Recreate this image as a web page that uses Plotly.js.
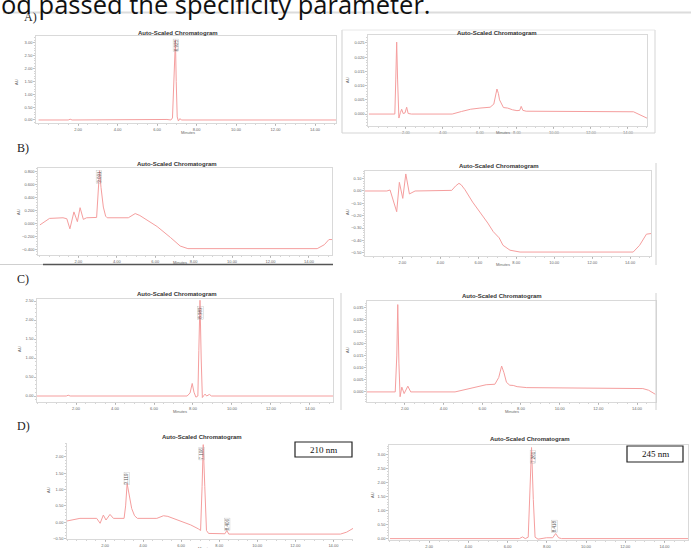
<!DOCTYPE html>
<html>
<head>
<meta charset="utf-8">
<script src="https://cdn.plot.ly/plotly-3.0.1.min.js"></script>
<style>
html,body{margin:0;padding:0;background:#fff;}
#chart{width:691px;height:548px;}
</style>
</head>
<body>
<div id="chart"></div>
<script>
// ---------------- DATA ----------------
const xTickVals = [2, 4, 6, 8, 10, 12, 14];

// A) left : standard
const aLeftT = [0, 1.5, 1.6, 1.7, 6.5, 6.7, 6.78, 6.84, 6.89, 6.93, 6.97, 7.02, 7.08, 7.15, 7.25, 15.1];
const aLeftV = [0, 0, 0.03, 0, 0.02, 0, 0.08, 1.4, 3.05, 3.12, 1.5, 0.12, -0.04, 0.05, 0, 0];
// A) right : blank
const aRightT = [0, 1.4, 1.45, 1.5, 1.55, 1.62, 1.7, 1.77, 1.85, 1.95, 2.04, 2.12, 2.3, 4.5, 5.0, 5.5, 6.0, 6.55, 6.75, 6.85, 6.92, 7.0, 7.06, 7.27, 7.5, 7.76, 8.0, 8.15, 8.23, 8.32, 8.5, 14.3, 14.6, 15.05];
const aRightV = [0, 0, 0.012, 0.0253, 0.012, -0.0014, 0.0005, 0.0017, 0.0002, 0.0004, 0.0024, 0.0002, 0, 0, 0.0009, 0.0017, 0.0021, 0.0024, 0.0035, 0.0075, 0.0088, 0.0072, 0.005, 0.0023, 0.0021, 0.0015, 0.0012, 0.0013, 0.0027, 0.0013, 0.001, 0.0008, -0.0002, -0.0015];
// B) left
const bLeftT = [0, 0.5, 1.2, 1.4, 1.56, 1.77, 1.95, 2.09, 2.26, 2.43, 2.95, 3.02, 3.1, 3.18, 3.3, 3.42, 3.5, 4.6, 4.96, 5.2, 5.6, 6.1, 6.8, 7.3, 7.7, 14.43, 14.8, 15.04, 15.2];
const bLeftV = [-0.025, 0.075, 0.085, 0.07, -0.085, 0.175, 0.025, 0.24, 0.06, 0.085, 0.09, 0.4, 0.81, 0.55, 0.25, 0.11, 0.085, 0.085, 0.15, 0.12, 0.05, -0.05, -0.22, -0.35, -0.39, -0.39, -0.33, -0.25, -0.25];
// B) right : blank
const bRightT = [0, 1.18, 1.35, 1.7, 1.84, 2.02, 2.18, 2.37, 2.67, 4.5, 4.6, 4.8, 4.98, 5.1, 5.3, 5.7, 6.09, 6.5, 6.79, 7.1, 7.3, 7.67, 8.2, 14.16, 14.5, 14.86, 15.1];
const bRightV = [0, 0, 0.008, -0.168, 0.07, -0.06, 0.138, -0.024, 0, 0, 0.005, 0.04, 0.062, 0.05, 0.01, -0.09, -0.17, -0.26, -0.33, -0.38, -0.44, -0.48, -0.495, -0.495, -0.44, -0.35, -0.345];
// C) left
const cLeftT = [0, 1.5, 1.6, 1.7, 7.7, 7.85, 7.96, 8.05, 8.15, 8.25, 8.3, 8.36, 8.42, 8.48, 8.55, 8.62, 8.7, 8.84, 8.95, 15.2];
const cLeftV = [0, 0, 0.02, 0, 0, 0.08, 0.33, 0.1, -0.03, 0, 1.2, 2.52, 1.0, -0.04, 0.01, 0.05, 0, 0.04, 0, 0];
// C) right : blank
const cRightT = [0, 1.5, 1.58, 1.63, 1.69, 1.75, 1.84, 1.96, 2.15, 2.3, 4.59, 5.2, 5.8, 6.2, 6.65, 6.85, 7.0, 7.12, 7.25, 7.42, 7.6, 7.8, 8.3, 10, 14.3, 14.6, 14.95];
const cRightV = [0, 0, 0.015, 0.0364, 0.012, -0.002, 0.002, -0.0007, 0.0024, 0, 0, 0.0012, 0.0024, 0.003, 0.0032, 0.006, 0.0108, 0.008, 0.004, 0.0028, 0.0027, 0.0022, 0.0018, 0.0016, 0.0014, 0.0007, -0.001];
// D) left : 210 nm
const dLeftT = [0, 0.68, 1.56, 1.74, 1.91, 2.05, 2.26, 2.44, 3.0, 3.08, 3.16, 3.25, 3.4, 3.55, 3.7, 4.72, 5.07, 5.3, 5.9, 6.5, 6.9, 7.02, 7.1, 7.16, 7.24, 7.33, 7.44, 8.3, 8.4, 8.5, 14.37, 14.7, 15.05];
const dLeftV = [0.04, 0.12, 0.12, -0.03, 0.22, 0.07, 0.24, 0.12, 0.12, 0.5, 1.18, 0.85, 0.42, 0.2, 0.12, 0.12, 0.2, 0.18, 0.05, -0.08, -0.2, -0.25, 1.1, 2.37, 1.1, -0.25, -0.34, -0.35, -0.25, -0.36, -0.36, -0.3, -0.18];
// D) right : 245 nm
const dRightT = [0, 6.6, 6.76, 6.9, 7.05, 7.13, 7.22, 7.31, 7.4, 7.55, 7.98, 8.3, 8.45, 8.6, 8.75, 15.2];
const dRightV = [0, 0, 0.06, 0, 0.05, 1.4, 3.25, 1.4, 0.05, -0.02, 0.03, 0.03, 0.18, 0.03, 0, 0];

const peakLabelText = ["6.925", "3.091", "8.383", "3.119", "7.106", "8.406", "7.261", "8.418"];
const peakLabelT = [6.93, 3.08, 8.41, 3.15, 7.09, 8.41, 7.28, 8.4];
const peakLabelV = [2.9, 0.71, 2.2, 1.35, 2.11, -0.08, 2.92, 0.44];
const peakLabelPanel = [0, 2, 4, 6, 6, 6, 7, 7];

// ---------------- LAYOUT HELPERS ----------------
const W = 691, H = 548;
const px = x => x / W;
const py = y => 1 - y / H;

const panels = [
  {box:[36,336,36,123],  xr:[-0.13,15.06], yr:[-0.117,3.27],   ydt:0.5,   yfmt:'.2f', t:aLeftT,  v:aLeftV,  mirror:true, title:[178,33],  au:[17,82],   min:[188,132]},
  {box:[368,647,35,126], xr:[-0.05,15.03], yr:[-0.0042,0.0278], ydt:0.005, yfmt:'.3f', t:aRightT, v:aRightV, mirror:true, title:[497,33],  au:[347,80],  min:[503,132]},
  {box:[38,332,168,255], xr:[-0.1,15.2],   yr:[-0.488,0.851],  ydt:0.2,   yfmt:'.3f', t:bLeftT,  v:bLeftV,  mirror:true, title:[177,164], au:[18,212],  min:[180,262]},
  {box:[365,651,171,256],xr:[0.03,15.1],   yr:[-0.527,0.162],  ydt:0.1,   yfmt:'.2f', t:bRightT, v:bRightV, mirror:true, title:[499,166], au:[347,212], min:[503,264]},
  {box:[37,333,299,402], xr:[0,15.18],     yr:[-0.158,2.553],  ydt:0.5,   yfmt:'.2f', t:cLeftT,  v:cLeftV,  mirror:true, title:[177,294], au:[19,349],  min:[180,411]},
  {box:[367,656,301,402],xr:[0.04,14.98],  yr:[-0.0042,0.0379], ydt:0.005, yfmt:'.3f', t:cRightT, v:cRightV, mirror:true, title:[502,296], au:[347,350], min:[512,411]},
  {box:[67,353,443,539], xr:[0,15.03],     yr:[-0.51,2.42],    ydt:0.5,   yfmt:'.2f', t:dLeftT,  v:dLeftV,  mirror:false,title:[202,437], au:[48,490],  min:[205,548]},
  {box:[389,688,445,540],xr:[-0.05,15.2],  yr:[-0.05,3.34],    ydt:0.5,   yfmt:'.2f', t:dRightT, v:dRightV, mirror:true, title:[530,439], au:[372,495], min:null}
];

const lineColor = 'rgb(245,158,158)';
const tickFont = {family:'Liberation Sans, Arial, sans-serif', size:4, color:'#666'};
const traces = [];
const layout = {
  width: W, height: H,
  margin: {l:0, r:0, t:0, b:0},
  paper_bgcolor: '#fff', plot_bgcolor: '#fff',
  showlegend: false,
  annotations: [], shapes: []
};

panels.forEach((p, i) => {
  const n = i === 0 ? '' : String(i + 1);
  traces.push({
    x: p.t, y: p.v, xaxis: 'x' + n, yaxis: 'y' + n,
    type: 'scatter', mode: 'lines',
    line: {color: lineColor, width: 1},
    hoverinfo: 'skip'
  });
  const common = {
    showline: true, linecolor: '#cfcfcf', linewidth: 0.8, mirror: p.mirror,
    ticks: 'outside', ticklen: 2, tickwidth: 0.6, tickcolor: '#999',
    tickfont: tickFont, showgrid: false, zeroline: false, fixedrange: true
  };
  layout['xaxis' + n] = Object.assign({}, common, {
    domain: [px(p.box[0]), px(p.box[1])], range: p.xr, anchor: 'y' + n,
    tickmode: 'array', tickvals: xTickVals, tickformat: '.2f',
    minor: {tickmode: 'linear', tick0: 0, dtick: 0.5, ticks: 'outside', ticklen: 1.2, tickwidth: 0.5, tickcolor: '#aaa'}
  });
  layout['yaxis' + n] = Object.assign({}, common, {
    domain: [py(p.box[3]), py(p.box[2])], range: p.yr, anchor: 'x' + n,
    tickmode: 'linear', tick0: 0, dtick: p.ydt, tickformat: p.yfmt,
    minor: {tickmode: 'linear', tick0: 0, dtick: p.ydt / 5, ticks: 'outside', ticklen: 1.2, tickwidth: 0.5, tickcolor: '#aaa'}
  });
  layout.annotations.push({
    xref:'paper', yref:'paper', x:px(p.title[0]), y:py(p.title[1]),
    text:'<b>Auto-Scaled Chromatogram</b>', showarrow:false,
    font:{family:'Liberation Sans, Arial, sans-serif', size:6, color:'#333'},
    xanchor:'center', yanchor:'middle'
  });
  layout.annotations.push({
    xref:'paper', yref:'paper', x:px(p.au[0]), y:py(p.au[1]),
    text:'AU', textangle:-90, showarrow:false, font:tickFont,
    xanchor:'center', yanchor:'middle'
  });
  if (p.min) layout.annotations.push({
    xref:'paper', yref:'paper', x:px(p.min[0]), y:py(p.min[1]),
    text:'Minutes', showarrow:false, font:tickFont,
    xanchor:'center', yanchor:'middle'
  });
});

// peak retention-time labels
peakLabelText.forEach((txt, k) => {
  const i = peakLabelPanel[k];
  const n = i === 0 ? '' : String(i + 1);
  layout.annotations.push({
    xref:'x' + n, yref:'y' + n, x:peakLabelT[k], y:peakLabelV[k],
    text:txt, textangle:-90, showarrow:false,
    font:{family:'Liberation Sans, Arial, sans-serif', size:4.5, color:'#555'},
    bordercolor:'#aaa', borderwidth:0.3, borderpad:0.3,
    xanchor:'center', yanchor:'middle'
  });
});

// panel letters
[['A)',22,17],['B)',15,148],['C)',15,279],['D)',15,426]].forEach(L => {
  layout.annotations.push({
    xref:'paper', yref:'paper', x:px(L[1]), y:py(L[2]), text:L[0], showarrow:false,
    font:{family:'Liberation Serif, Times New Roman, serif', size:12, color:'#222'},
    xanchor:'left', yanchor:'middle'
  });
});

// wavelength boxes
[['210 nm',295,442,352,457],['245 nm',627,446,683,462]].forEach(B => {
  layout.shapes.push({type:'rect', xref:'paper', yref:'paper',
    x0:px(B[1]), x1:px(B[3]), y0:py(B[4]), y1:py(B[2]),
    line:{color:'#222', width:1.2}, fillcolor:'rgba(255,255,255,0)'});
  layout.annotations.push({xref:'paper', yref:'paper',
    x:px((B[1]+B[3])/2), y:py((B[2]+B[4])/2), text:B[0], showarrow:false,
    font:{family:'Liberation Serif, Times New Roman, serif', size:9, color:'#111'},
    xanchor:'center', yanchor:'middle'});
});

// top sentence (cut off in the source image)
layout.annotations.push({
  xref:'paper', yref:'paper', x:px(-1), y:py(4),
  text:'od passed the specificity parameter.', showarrow:false,
  font:{family:'Open Sans, sans-serif', size:25.5, color:'#111'},
  xanchor:'left', yanchor:'middle'
});

// decorative page lines
const seg = (x0,y0,x1,y1,color,width) => layout.shapes.push({type:'line', xref:'paper', yref:'paper',
  x0:px(x0), y0:py(y0), x1:px(x1), y1:py(y1), line:{color:color, width:width}});
seg(3,12.5,691,12.5,'#dcdcdc',2);
seg(342,30,342,133,'#cfcfcf',1);
seg(655,30,655,133,'#d5d5d5',1);
seg(342,30,655,30,'#e2e2e2',0.8);
seg(342,133,655,133,'#d5d5d5',1);
seg(0,264.5,43,264.5,'#cfcfcf',1);
seg(43,264.5,333,264.5,'#555',1.6);
seg(656,163,656,265,'#d0d0d0',1);
seg(341,293,341,410,'#cfcfcf',1);
seg(656,293,656,410,'#d0d0d0',1);

Plotly.newPlot('chart', traces, layout, {staticPlot:true, displayModeBar:false});
</script>
</body>
</html>
